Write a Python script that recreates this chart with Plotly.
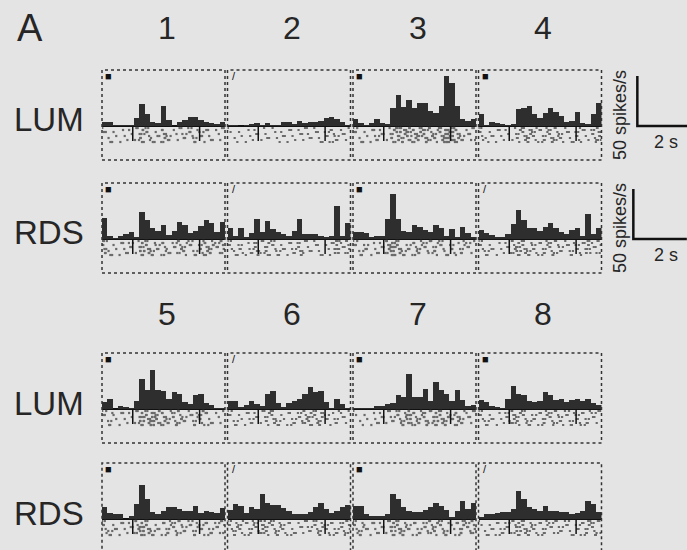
import numpy as np
import plotly.graph_objects as go

# ---------------- data ----------------
BIN_WIDTH = 0.2            # s
N_BINS = 23
TIME_BINS = np.arange(N_BINS) * BIN_WIDTH   # left bin edges (s)
T_MAX = N_BINS * BIN_WIDTH
STIM_ON = 1.15             # s
STIM_OFF = 3.65            # s
SCALE_RATE = 50            # spikes/s
SCALE_TIME = 2             # s

PANEL_LABEL = "A"
COLUMN_LABELS = ["1", "2", "3", "4", "5", "6", "7", "8"]
ROW_LABELS = ["LUM", "RDS"]

# PSTH values (spikes/s) per 0.2 s bin
LUM_1 = [4, 4, 1, 1, 1, 1, 8, 22, 12, 4, 3, 20, 6, 0, 4, 6, 9, 9, 6, 4, 3, 2, 4]
LUM_2 = [1, 1, 0, 1, 2, 3, 1, 3, 1, 1, 4, 4, 2, 5, 3, 4, 4, 5, 8, 9, 7, 4, 1]
LUM_3 = [7, 3, 1, 3, 7, 3, 2, 18, 31, 19, 26, 18, 23, 23, 15, 13, 20, 50, 43, 20, 7, 5, 7]
LUM_4 = [12, 1, 4, 3, 2, 1, 2, 17, 18, 20, 12, 8, 13, 18, 14, 10, 4, 5, 14, 3, 2, 12, 23]
LUM_5 = [7, 10, 0, 3, 2, 1, 8, 30, 19, 39, 19, 18, 10, 17, 15, 7, 5, 14, 15, 6, 4, 1, 1]
LUM_6 = [8, 8, 2, 4, 8, 5, 3, 15, 18, 6, 2, 6, 8, 10, 15, 22, 17, 18, 7, 1, 10, 5, 1]
LUM_7 = [1, 1, 1, 1, 3, 3, 5, 6, 14, 12, 35, 12, 12, 20, 8, 27, 19, 15, 8, 19, 9, 3, 4]
LUM_8 = [9, 7, 3, 2, 1, 10, 23, 15, 14, 8, 7, 8, 17, 14, 9, 10, 7, 9, 10, 8, 10, 6, 4]

RDS_1 = [21, 3, 1, 3, 5, 7, 2, 27, 19, 11, 8, 14, 4, 8, 17, 14, 6, 8, 13, 19, 16, 7, 17]
RDS_2 = [11, 3, 11, 2, 6, 20, 7, 18, 10, 7, 5, 3, 8, 20, 5, 5, 5, 3, 2, 3, 33, 3, 16]
RDS_3 = [7, 7, 6, 2, 3, 3, 20, 45, 20, 8, 7, 14, 12, 9, 7, 14, 11, 3, 10, 2, 12, 6, 2]
RDS_4 = [9, 6, 4, 2, 2, 5, 15, 29, 19, 11, 11, 8, 12, 16, 11, 7, 5, 9, 11, 3, 25, 5, 11]
RDS_5 = [12, 6, 5, 5, 0, 3, 15, 34, 20, 7, 5, 8, 12, 12, 10, 8, 8, 13, 6, 8, 7, 6, 11]
RDS_6 = [9, 15, 13, 6, 12, 10, 25, 16, 14, 14, 11, 8, 5, 5, 5, 7, 12, 16, 10, 6, 8, 12, 14]
RDS_7 = [13, 13, 5, 3, 3, 3, 5, 25, 20, 12, 8, 7, 7, 9, 12, 16, 13, 9, 2, 8, 18, 10, 16]
RDS_8 = [2, 5, 5, 6, 7, 7, 10, 28, 20, 12, 10, 8, 13, 8, 8, 7, 7, 5, 6, 8, 18, 15, 7]

LUM_DATA = [LUM_1, LUM_2, LUM_3, LUM_4, LUM_5, LUM_6, LUM_7, LUM_8]
RDS_DATA = [RDS_1, RDS_2, RDS_3, RDS_4, RDS_5, RDS_6, RDS_7, RDS_8]

# symbols in the top-left corner of each panel
LUM_MARKS = ["■", "/", "■", "■", "■", "/", "■", "■"]
RDS_MARKS = ["■", "/", "■", "/", "■", "/", "■", "/"]

# ---------------- layout geometry (pixels) ----------------
W, H = 687, 550
COL_X = [102, 227.5, 353, 478.5]
PANEL_W = 123
ROW_TOP = [70, 183, 353, 463]
PANEL_H = 90
Y_TOP = 56
PX_PER_S = PANEL_W / T_MAX

BG = "#e4e4e4"
INK = "#262626"
BAR = "#2e2e2e"
FONT = "Liberation Sans, Arial, sans-serif"


def raster_points(values):
    """Lay out one dot per few spikes/s of each bin in the raster strip."""
    xs, ys = [], []
    for i, v in enumerate(values):
        n = 2 + int(v) // 3
        for j in range(n):
            frac = (j + 0.5 + (((i * 3 + j * 5) % 5) - 2) * 0.18) / n
            xs.append(TIME_BINS[i] + frac * BIN_WIDTH)
            ys.append(-(2.0 + ((i * 13 + j * 7 + j * j * 3) % 8) * 2.0))
    return xs, ys


def ax_names(k):
    s = "" if k == 1 else str(k)
    return f"x{s}", f"y{s}", f"xaxis{s}", f"yaxis{s}"


fig = go.Figure()
layout = dict(
    width=W, height=H,
    margin=dict(l=0, r=0, t=0, b=0),
    paper_bgcolor=BG, plot_bgcolor=BG,
    showlegend=False,
    bargap=0,
)
shapes, annotations = [], []

k = 0
for block in range(2):
    for r, (row_name, data, marks) in enumerate(
            [(ROW_LABELS[0], LUM_DATA, LUM_MARKS), (ROW_LABELS[1], RDS_DATA, RDS_MARKS)]):
        g = 2 * block + r
        top = ROW_TOP[g]
        bottom = min(top + PANEL_H, H)
        y_lo = Y_TOP - (bottom - top)
        ydom = [1 - bottom / H, 1 - top / H]
        for c in range(4):
            k += 1
            idx = block * 4 + c
            vals = data[idx]
            xname, yname, xkey, ykey = ax_names(k)
            xdom = [COL_X[c] / W, (COL_X[c] + PANEL_W) / W]
            layout[xkey] = dict(domain=xdom, range=[0, T_MAX], anchor=yname,
                                visible=False, fixedrange=True)
            layout[ykey] = dict(domain=ydom, range=[y_lo, Y_TOP], anchor=xname,
                                showgrid=False, showticklabels=False, ticks="",
                                showline=False, zeroline=True,
                                zerolinecolor="#111111", zerolinewidth=1.5,
                                fixedrange=True)
            # raster
            rx, ry = raster_points(vals)
            fig.add_trace(go.Scatter(x=rx, y=ry, mode="markers", xaxis=xname, yaxis=yname,
                                     marker=dict(symbol="square", size=2.2, color="#6a6a6a"),
                                     hoverinfo="skip"))
            # PSTH
            fig.add_trace(go.Bar(x=TIME_BINS + BIN_WIDTH / 2, y=vals, width=BIN_WIDTH,
                                 xaxis=xname, yaxis=yname,
                                 marker=dict(color=BAR, line=dict(width=0))))
            # stimulus on/off ticks in raster
            for t in (STIM_ON, STIM_OFF):
                shapes.append(dict(type="line", xref=xname, yref=yname,
                                   x0=t, x1=t, y0=0, y1=-15,
                                   line=dict(color="#111111", width=1.5)))
            # dotted frame
            shapes.append(dict(type="rect", xref=f"{xname} domain", yref=f"{yname} domain",
                               x0=0, x1=1, y0=0 if bottom < H else -0.05, y1=1,
                               line=dict(color="#333333", width=1.5, dash="dot"),
                               layer="above"))
            # corner mark
            annotations.append(dict(xref=f"{xname} domain", yref=f"{yname} domain",
                                    x=0.055, y=0.93, text=marks[idx], showarrow=False,
                                    xanchor="center", yanchor="middle",
                                    font=dict(family=FONT, size=11, color="#111111")))
        # row label
        annotations.append(dict(xref="paper", yref="paper", x=49 / W,
                                y=1 - (top + 50) / H, text=row_name, showarrow=False,
                                xanchor="center", yanchor="middle",
                                font=dict(family=FONT, size=33, color=INK)))
    # column numbers
    num_y = [28, 314][block]
    for c in range(4):
        annotations.append(dict(xref="paper", yref="paper",
                                x=(COL_X[c] + PANEL_W / 2 + 3) / W, y=1 - num_y / H,
                                text=COLUMN_LABELS[block * 4 + c], showarrow=False,
                                xanchor="center", yanchor="middle",
                                font=dict(family=FONT, size=32, color=INK)))

annotations.append(dict(xref="paper", yref="paper", x=30 / W, y=1 - 28 / H,
                        text=PANEL_LABEL, showarrow=False, xanchor="center",
                        yanchor="middle", font=dict(family=FONT, size=38, color=INK)))

# scale bars for the first two rows
for s, (g, x_left) in enumerate([(0, 636), (1, 632)]):
    k += 1
    top = ROW_TOP[g]
    ydom = [1 - (top + PANEL_H) / H, 1 - top / H]
    xname, yname, xkey, ykey = ax_names(k)
    x_span = (W - x_left) / PX_PER_S
    layout[xkey] = dict(domain=[x_left / W, 1], range=[-0.05, x_span - 0.05],
                        anchor=yname, visible=False, fixedrange=True)
    layout[ykey] = dict(domain=ydom, range=[Y_TOP - PANEL_H, Y_TOP], anchor=xname,
                        visible=False, fixedrange=True)
    fig.add_trace(go.Scatter(x=[0, 0, SCALE_TIME], y=[SCALE_RATE, 0, 0], mode="lines",
                             xaxis=xname, yaxis=yname, hoverinfo="skip",
                             line=dict(color="#111111", width=2.5)))
    annotations.append(dict(xref="paper", yref="paper", x=620 / W,
                            y=1 - (top + 45) / H, text=f"{SCALE_RATE} spikes/s",
                            textangle=-90, showarrow=False, xanchor="center",
                            yanchor="middle", font=dict(family=FONT, size=18, color=INK)))
    annotations.append(dict(xref="paper", yref="paper", x=666 / W,
                            y=1 - (top + 72) / H, text=f"{SCALE_TIME} s",
                            showarrow=False, xanchor="center", yanchor="middle",
                            font=dict(family=FONT, size=18, color=INK)))

layout["shapes"] = shapes
layout["annotations"] = annotations
fig.update_layout(**layout)
fig.write_html("out.html",
               config={"displayModeBar": False, "staticPlot": True},
               post_script="document.body.style.margin='0';document.body.style.overflow='hidden';")
